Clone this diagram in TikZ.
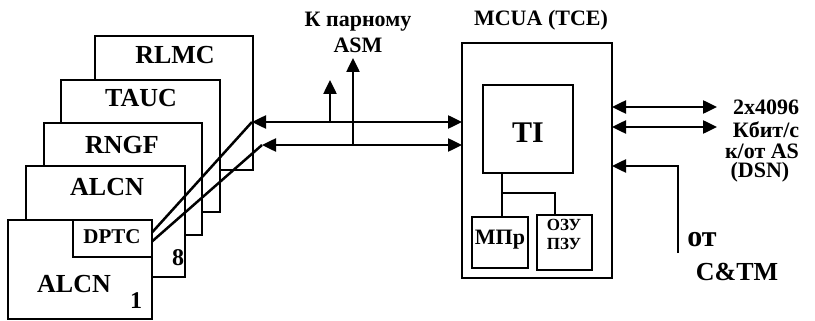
\documentclass[tikz,border=0pt]{standalone}
\usepackage{fontspec}
\setmainfont{Liberation Serif}
\usetikzlibrary{arrows.meta,calc}
\begin{document}
\begin{tikzpicture}[x=1pt,y=-1pt,
  line width=2.5pt,
  card/.style={draw,fill=white,inner sep=0pt,outer sep=0pt,anchor=north west},
  txt/.style={inner sep=0pt,font=\bfseries\fontsize{#1}{#1}\selectfont},
  tip/.tip={Triangle[length=14pt,width=13pt]},
  arr/.style={-tip},
  darr/.style={tip-tip}]
\useasboundingbox (0,0) rectangle (815,321);
% stacked cards
\node[card,minimum width=158pt,minimum height=134pt] (rlmc) at (95,36) {};
\node[card,minimum width=159pt,minimum height=132pt] (tauc) at (61,80) {};
\node[card,minimum width=158pt,minimum height=112pt] (rngf) at (44,123) {};
\node[card,minimum width=159pt,minimum height=111pt] (alcn2) at (26,166) {};
\node[card,minimum width=144pt,minimum height=99pt] (alcn1) at (8,220) {};
\node[card,minimum width=79pt,minimum height=37pt] (dptc) at (73,220) {};
\node[txt=26] (lrlmc) at (175,55) {RLMC};
\node[txt=26] (ltauc) at (141,98) {TAUC};
\node[txt=26] (lrngf) at (122,145) {RNGF};
\node[txt=26] (lalcn2) at (107,187) {ALCN};
\node[txt=26] (lalcn1) at (74,284) {ALCN};
\node[txt=21] (ldptc) at (112,237) {DPTC};
\node[txt=24] (n8) at (178,258) {8};
\node[txt=24] (n1) at (136,301) {1};
% MCUA
\node[card,minimum width=150pt,minimum height=235pt] (mcua) at (462,43) {};
\node[card,minimum width=90pt,minimum height=88pt] (ti) at (483,85) {};
\node[card,minimum width=56pt,minimum height=51pt] (mpr) at (472,217) {};
\node[card,minimum width=55pt,minimum height=55pt] (ozu) at (537,215) {};
\node[txt=22] (lmcua) at (541,20) {MCUA (TCE)};
\node[txt=30] (lti) at (528,133) {TI};
\node[txt=22] (lmpr) at (500,240) {МПр};
\node[txt=17,align=center] (lozu) at (564,234) {ОЗУ\\[2pt]ПЗУ};
% bus
\coordinate (b1) at (252,122);
\coordinate (b2) at (262,145);
\coordinate (u1) at (330,80);
\coordinate (u2) at (353,58);
\draw ([yshift=6pt]dptc.east) -- (b1);
\draw ([yshift=-3pt]dptc.east) -- (b2);
\draw[darr] (b1) -- (b1 -| mcua.west);
\draw[darr] (b2) -- (b2 -| mcua.west);
\draw[arr] (u1 |- b1) -- (u1);
\draw[arr] (u2 |- b2) -- (u2);
\node[txt=22] (lk) at (358,22) {К парному};
\node[txt=22] (lasm) at (358,45) {ASM};
% internal
\coordinate (j) at (502,193);
\coordinate (k) at (555,193);
\draw (j |- ti.south) -- (j |- mpr.north);
\draw (j) -- (k) -- (k |- ozu.north);
% right side
\coordinate (r1) at (717,107);
\coordinate (r2) at (717,127);
\draw[darr] (r1 -| mcua.east) -- (r1);
\draw[darr] (r2 -| mcua.east) -- (r2);
\coordinate (c) at (678,253);
\coordinate (t) at (678,166);
\draw[arr] (c) -- (t) -- (t -| mcua.east);
\node[txt=22,anchor=base] (l1) at (766,114) {2x4096};
\node[txt=22,anchor=base] (l2) at (766,137) {Кбит/с};
\node[txt=22,anchor=base] (l3) at (762,158) {к/от AS};
\node[txt=22,anchor=base] (l4) at (760,178) {(DSN)};
\node[txt=30] (lot) at (702,240) {от};
\node[txt=26] (lctm) at (737,272) {C\&TM};
\end{tikzpicture}
\end{document}
